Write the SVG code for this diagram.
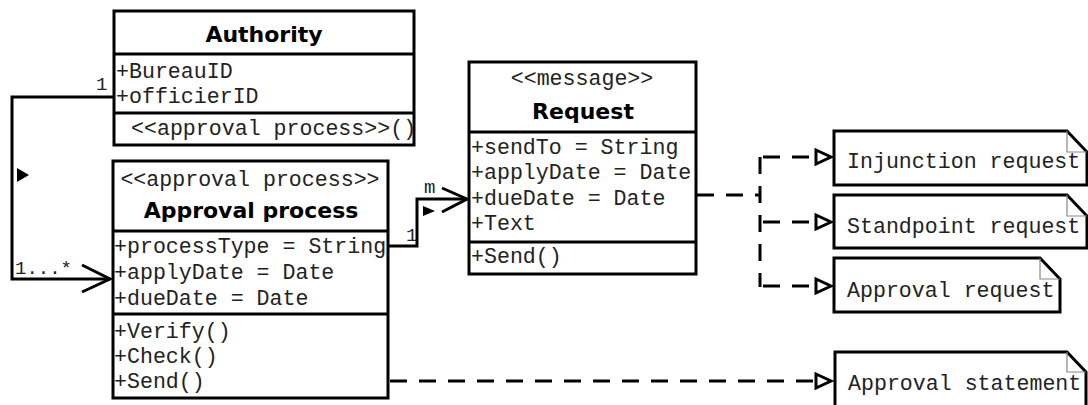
<svg xmlns="http://www.w3.org/2000/svg" width="1088" height="405" viewBox="0 0 1088 405">
<style>
.box{fill:#fff;stroke:#000;stroke-width:3}
.sep{stroke:#000;stroke-width:3}
.title{font-family:"DejaVu Sans",Verdana,sans-serif;font-weight:bold;font-size:22px;fill:#000;text-anchor:middle}
.mono{font-family:"Liberation Mono","Courier New",monospace;font-size:21.6px;fill:#222}
.st{text-anchor:middle}
.line{fill:none;stroke:#000;stroke-width:3}
.dash{fill:none;stroke:#000;stroke-width:3;stroke-dasharray:17 12}
.tri{fill:#fff;stroke:#000;stroke-width:3;stroke-linejoin:miter}
.fold{fill:none;stroke:#888;stroke-width:1.2}
.lbl{font-family:"Liberation Mono","Courier New",monospace;font-size:19px;fill:#222}
</style>
<g id="connectors">
  <polyline class="line" points="114,97 12,97 12,279 110,279"/>
  <polyline class="line" points="82,265 110,279 82,292"/>
  <polygon points="17,168 29,175 17,182" fill="#000"/>
  <text class="lbl" x="96" y="90">1</text>
  <text class="lbl" x="15" y="274">1...*</text>
  <polyline class="line" points="388,246 417,246 417,199 467,199"/>
  <polyline class="line" points="442,188 467,199 442,212"/>
  <polygon points="423,206 435,211 423,216" fill="#000"/>
  <text class="lbl" x="424" y="193">m</text>
  <text class="lbl" x="406" y="241">1</text>
  <polyline class="dash" points="697,195 760,195"/>
  <polyline class="dash" points="760,157 760,287"/>
  <polyline class="dash" points="763,157 816,157"/>
  <polyline class="dash" points="763,222 816,222"/>
  <polyline class="dash" points="763,286 816,286"/>
  <polygon class="tri" points="816,150 831,157 816,164"/>
  <polygon class="tri" points="816,215 831,222 816,229"/>
  <polygon class="tri" points="816,279 831,286 816,293"/>
  <polyline class="dash" points="390,381 816,381"/>
  <polygon class="tri" points="816,374 831,381 816,388"/>
</g>
<g id="authority">
  <rect class="box" x="114" y="11" width="300" height="134"/>
  <line class="sep" x1="114" y1="54" x2="414" y2="54"/>
  <line class="sep" x1="114" y1="113" x2="414" y2="113"/>
  <text class="title" x="264" y="42">Authority</text>
  <text class="mono" x="116" y="78">+BureauID</text>
  <text class="mono" x="116" y="103">+officierID</text>
  <text class="mono" x="131" y="135">&lt;&lt;approval process&gt;&gt;()</text>
</g>
<g id="approval-process">
  <rect class="box" x="113" y="161" width="275" height="237"/>
  <line class="sep" x1="113" y1="231" x2="388" y2="231"/>
  <line class="sep" x1="113" y1="314" x2="388" y2="314"/>
  <text class="mono st" x="250" y="186">&lt;&lt;approval process&gt;&gt;</text>
  <text class="title" x="251" y="218">Approval process</text>
  <text class="mono" x="114" y="253">+processType = String</text>
  <text class="mono" x="114" y="279">+applyDate = Date</text>
  <text class="mono" x="114" y="305">+dueDate = Date</text>
  <text class="mono" x="114" y="338">+Verify()</text>
  <text class="mono" x="114" y="363">+Check()</text>
  <text class="mono" x="114" y="388">+Send()</text>
</g>
<g id="request">
  <rect class="box" x="469" y="62" width="227" height="212"/>
  <line class="sep" x1="469" y1="132" x2="696" y2="132"/>
  <line class="sep" x1="469" y1="242" x2="696" y2="242"/>
  <text class="mono st" x="582" y="85">&lt;&lt;message&gt;&gt;</text>
  <text class="title" x="583" y="119">Request</text>
  <text class="mono" x="471" y="154">+sendTo = String</text>
  <text class="mono" x="471" y="179">+applyDate = Date</text>
  <text class="mono" x="471" y="205">+dueDate = Date</text>
  <text class="mono" x="471" y="230">+Text</text>
  <text class="mono" x="471" y="263">+Send()</text>
</g>
<g id="injunction-request">
  <path class="box" d="M834,131 H1067 L1087,152 V185 H834 Z"/>
  <path class="fold" d="M1067,131 V152 H1087"/>
  <text class="mono" x="847" y="168">Injunction request</text>
</g>
<g id="standpoint-request">
  <path class="box" d="M834,195 H1067 L1087,216 V248 H834 Z"/>
  <path class="fold" d="M1067,195 V216 H1087"/>
  <text class="mono" x="847" y="233">Standpoint request</text>
</g>
<g id="approval-request">
  <path class="box" d="M834,258 H1040 L1060,279 V312 H834 Z"/>
  <path class="fold" d="M1040,258 V279 H1060"/>
  <text class="mono" x="847" y="297">Approval request</text>
</g>
<g id="approval-statement">
  <path class="box" d="M835,352 H1067 L1086,372 V410 H835 Z"/>
  <path class="fold" d="M1067,352 V372 H1086"/>
  <text class="mono" x="848" y="390">Approval statement</text>
</g>
</svg>
